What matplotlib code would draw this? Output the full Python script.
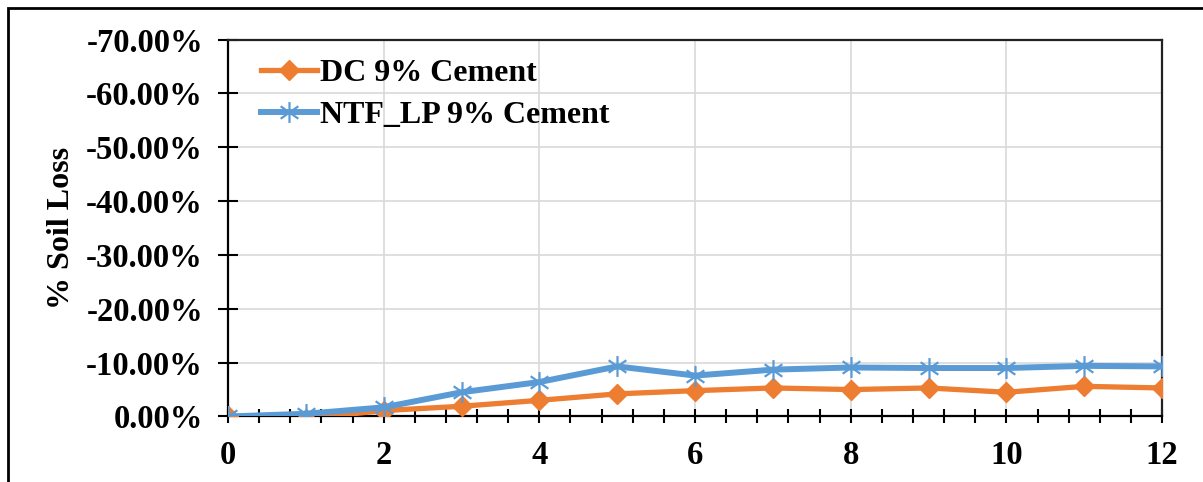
import matplotlib
matplotlib.use('Agg')
import matplotlib.pyplot as plt
from matplotlib.path import Path
from matplotlib.patches import Rectangle
from matplotlib.ticker import MultipleLocator, FuncFormatter

# data (fraction of soil loss, plotted negative)
cycles = [0, 1, 2, 3, 4, 5, 6, 7, 8, 9, 10, 11, 12]
dc_9 = [0.0, 0.004, -0.011, -0.019, -0.030, -0.042, -0.048, -0.053,
        -0.050, -0.053, -0.045, -0.056, -0.053]
ntf_lp_9 = [0.0, -0.005, -0.017, -0.045, -0.064, -0.093, -0.076, -0.087,
            -0.091, -0.090, -0.090, -0.094, -0.093]
labels = ['DC 9% Cement', 'NTF_LP 9% Cement']

plt.rcParams['font.family'] = ['Liberation Serif', 'DejaVu Serif']
plt.rcParams['font.weight'] = 'bold'
plt.rcParams['font.size'] = 23

ORANGE = '#ED7D31'
BLUE = '#5B9BD5'

# excel style asterisk: an X plus a vertical bar
star = Path([(0, -1), (0, 1), (-0.85, -0.6), (0.85, 0.6), (-0.85, 0.6), (0.85, -0.6)],
            [Path.MOVETO, Path.LINETO, Path.MOVETO, Path.LINETO, Path.MOVETO, Path.LINETO])


def create_figure():
    fig = plt.figure(figsize=(12.03, 4.82), dpi=100)
    ax = fig.add_axes([0.1895, 0.1359, 0.7765, 0.7821])

    ax.plot(cycles, dc_9, color=ORANGE, lw=3.8, marker='D', ms=10,
            mec=ORANGE, mfc=ORANGE, label=labels[0], zorder=3)
    ax.plot(cycles, ntf_lp_9, color=BLUE, lw=4.3, marker=star, ms=15,
            mec=BLUE, mew=1.6, label=labels[1], zorder=4)

    ax.set_xlim(0, 12)
    ax.set_ylim(0, -0.7)
    ax.xaxis.set_major_locator(MultipleLocator(2))
    ax.xaxis.set_minor_locator(MultipleLocator(0.4))
    ax.yaxis.set_major_locator(MultipleLocator(0.1))
    ax.yaxis.set_major_formatter(FuncFormatter(lambda v, p: '%.2f%%' % (v * 100 + 0.0)))

    ax.grid(True, which='major', color='#D9D9D9', lw=1.2, zorder=0)
    ax.set_axisbelow(True)

    for s in ['left', 'bottom']:
        ax.spines[s].set_linewidth(1.6)
        ax.spines[s].set_color('black')
    for s in ['top', 'right']:
        ax.spines[s].set_linewidth(1.6)
        ax.spines[s].set_color('#222222')

    ax.tick_params(axis='x', which='both', direction='inout', length=10,
                   width=1.5, pad=12, labelsize=23.5)
    ax.tick_params(axis='y', which='major', direction='inout', length=14,
                   width=1.5, pad=11, labelsize=23.5)
    ax.tick_params(axis='y', which='minor', left=False)

    ax.set_ylabel('% Soil Loss', fontsize=23, fontweight='bold')
    ax.yaxis.set_label_coords(-0.163, 0.5)

    ax.legend(loc='upper left', bbox_to_anchor=(0.035, 0.95), frameon=False,
              handlelength=1.75, handletextpad=0.1, labelspacing=0.4,
              borderpad=0, borderaxespad=0, prop={'size': 23, 'weight': 'bold'})

    # chart area border, cut by the image edge on the right and bottom
    fig.patches.append(Rectangle((8 / 1203, -0.1), 1.5, 1.1 - 8 / 482,
                                 transform=fig.transFigure, fill=False,
                                 ec='black', lw=2, clip_on=False))

    fig.savefig('out.png', dpi=100)
    plt.close(fig)


def main():
    create_figure()


if __name__ == '__main__':
    main()
